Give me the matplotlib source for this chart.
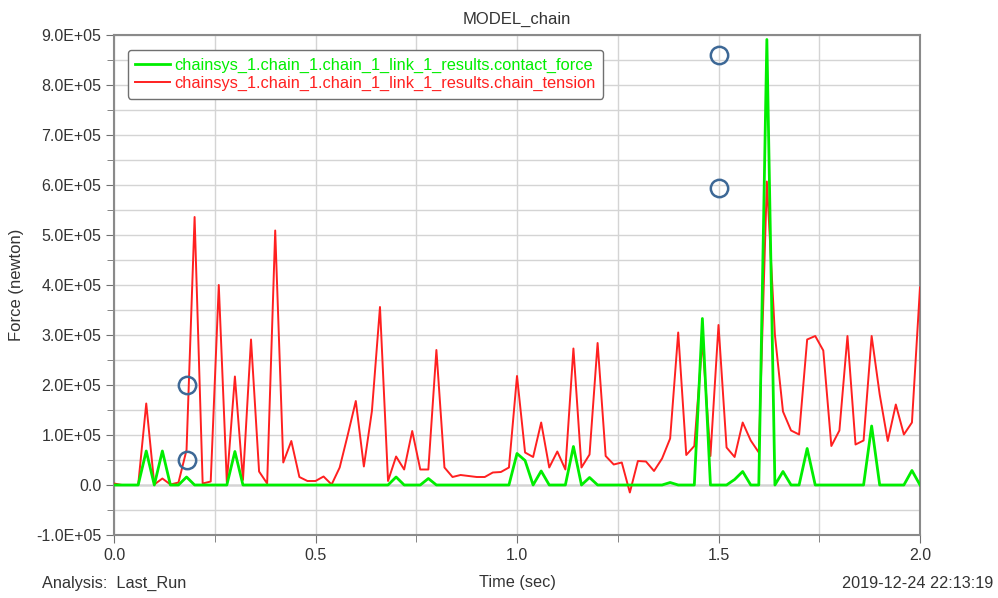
import numpy as np
import matplotlib
matplotlib.use("Agg")
import matplotlib.pyplot as plt
from matplotlib.ticker import MultipleLocator, FuncFormatter

plt.rcParams['font.family'] = ['Liberation Sans', 'DejaVu Sans']

# Sample times (s), 0.02 s step
time_s = np.round(np.arange(101) * 0.02, 2)

# Contact force on link 1 (units of 1e5 N)
contact_force = np.array([
    0, 0, 0, 0, 0.68, 0, 0.68, 0, 0, 0.16,
    0, 0, 0, 0, 0, 0.67, 0, 0, 0, 0,
    0, 0, 0, 0, 0, 0, 0, 0, 0, 0,
    0, 0, 0, 0, 0, 0.16, 0, 0, 0, 0.13,
    0, 0, 0, 0, 0, 0, 0, 0, 0, 0,
    0.63, 0.49, 0, 0.28, 0, 0, 0, 0.77, 0, 0.15,
    0, 0, 0, 0, 0, 0, 0, 0, 0, 0.05,
    0, 0, 0, 3.33, 0, 0, 0, 0.11, 0.27, 0,
    0, 8.91, 0, 0.27, 0, 0, 0.73, 0, 0, 0,
    0, 0, 0, 0, 1.18, 0, 0, 0, 0, 0.29,
    0,
]) * 1e5

# Chain tension on link 1 (units of 1e5 N)
chain_tension = np.array([
    0.03, 0, 0, 0, 1.63, 0.01, 0.13, 0.01, 0.05, 0.70,
    5.36, 0.03, 0.07, 4.00, 0.05, 2.17, 0.10, 2.91, 0.27, 0.03,
    5.09, 0.45, 0.88, 0.16, 0.08, 0.08, 0.17, 0.01, 0.35, 1.00,
    1.68, 0.37, 1.48, 3.56, 0.08, 0.57, 0.31, 1.08, 0.31, 0.31,
    2.70, 0.35, 0.16, 0.20, 0.18, 0.16, 0.16, 0.25, 0.26, 0.35,
    2.18, 0.65, 0.56, 1.25, 0.35, 0.67, 0.31, 2.73, 0.35, 0.61,
    2.84, 0.58, 0.41, 0.45, -0.15, 0.48, 0.47, 0.28, 0.53, 0.93,
    3.05, 0.60, 0.78, 2.89, 0.58, 3.20, 0.75, 0.56, 1.25, 0.89,
    0.65, 6.07, 3.00, 1.47, 1.09, 1.01, 2.91, 2.98, 2.69, 0.78,
    1.09, 2.98, 0.81, 0.89, 2.98, 1.81, 0.88, 1.61, 1.01, 1.25,
    3.95,
]) * 1e5

# Highlighted points (hollow circles)
mark_t = [0.18, 0.18, 1.50, 1.50]
mark_v = np.array([2.0, 0.5, 8.6, 5.95]) * 1e5

labels = ["chainsys_1.chain_1.chain_1_link_1_results.contact_force",
          "chainsys_1.chain_1.chain_1_link_1_results.chain_tension"]
green = "#00ee00"
red = "#ff2020"
text_col = "#333333"

fig = plt.figure(figsize=(9.98, 5.98), dpi=100)
ax = fig.add_axes([114 / 998, 63 / 598, 806 / 998, 500 / 598])

ax.set_xlim(0, 2.0)
ax.set_ylim(-1e5, 9e5)

ax.xaxis.set_major_locator(MultipleLocator(0.5))
ax.xaxis.set_minor_locator(MultipleLocator(0.25))
ax.yaxis.set_major_locator(MultipleLocator(1e5))
ax.yaxis.set_minor_locator(MultipleLocator(0.5e5))
ax.xaxis.set_major_formatter(FuncFormatter(lambda v, p: f"{v:.1f}"))


def sci(v, p):
    if abs(v) < 1e-9:
        return "0.0"
    return f"{v:.1E}"


ax.yaxis.set_major_formatter(FuncFormatter(sci))

ax.grid(True, which="both", color="#d4d4d4", linewidth=1.0, zorder=0)
ax.axhline(0, color="#707070", linewidth=1.0, zorder=1)

for s in ax.spines.values():
    s.set_color("#8a8a8a")
    s.set_linewidth(1.5)

ax.tick_params(axis="both", which="major", direction="out", length=6,
               color="#707070", labelsize=11.5, labelcolor=text_col, pad=3)
ax.tick_params(axis="both", which="minor", direction="out", length=5,
               color="#707070")

l_red, = ax.plot(time_s, chain_tension, color=red, linewidth=1.4, zorder=3)
l_green, = ax.plot(time_s, contact_force, color=green, linewidth=2.0, zorder=4)

ax.plot(mark_t, mark_v, linestyle="none", marker="o", markersize=12.5,
        markerfacecolor="none", markeredgecolor="#3d6896",
        markeredgewidth=1.8, zorder=6, clip_on=False)

leg = ax.legend([l_green, l_red], labels, loc="upper left",
                bbox_to_anchor=(0.0174, 0.97), borderaxespad=0.0,
                fontsize=11.8, handlelength=2.1, handletextpad=0.3,
                borderpad=0.45, labelspacing=0.22, frameon=True,
                fancybox=True, framealpha=1.0, edgecolor="#707070")
leg.get_frame().set_linewidth(1.0)
for txt, c in zip(leg.get_texts(), [green, red]):
    txt.set_color(c)
leg.set_zorder(7)

ax.set_title("MODEL_chain", fontsize=12, color=text_col, pad=8)
ax.set_ylabel("Force (newton)", fontsize=12, color=text_col, labelpad=9)

fig.text(517 / 998, 1 - 583 / 598, "Time (sec)", ha="center", va="center",
         fontsize=11.7, color=text_col)
fig.text(42 / 998, 1 - 583 / 598, "Analysis:  Last_Run", ha="left",
         va="center", fontsize=11.7, color=text_col)
fig.text(993 / 998, 1 - 583 / 598, "2019-12-24 22:13:19", ha="right",
         va="center", fontsize=11.7, color=text_col)

fig.savefig("out.png", dpi=100, facecolor="white")
